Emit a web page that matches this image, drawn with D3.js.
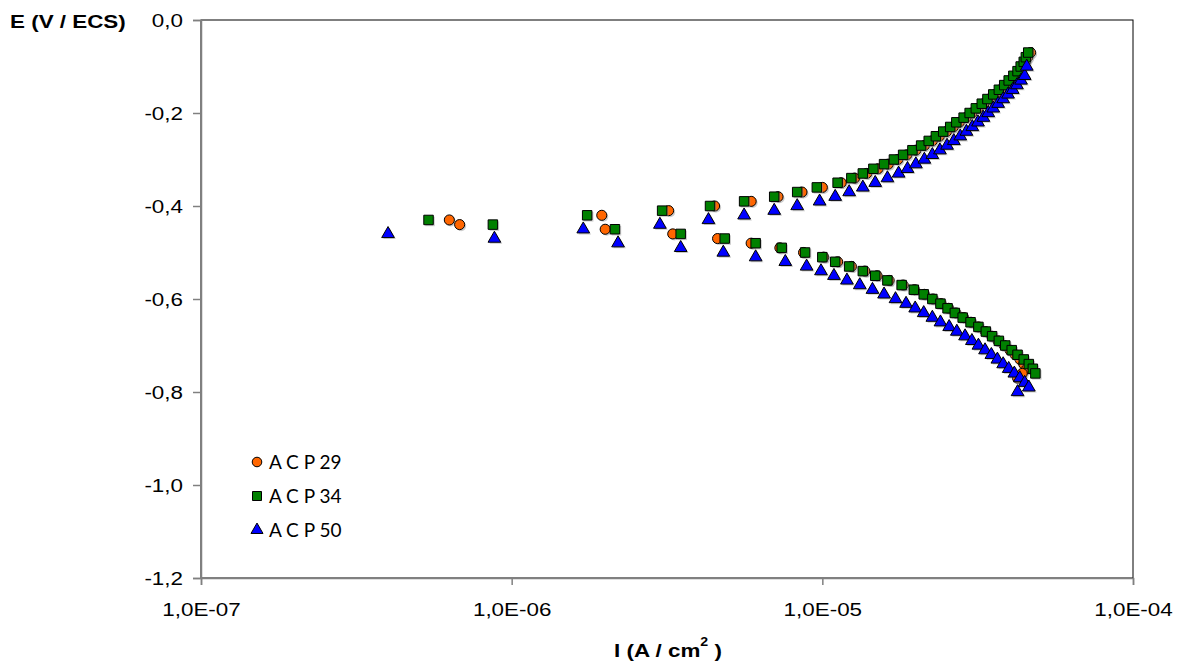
<!DOCTYPE html>
<html>
<head>
<meta charset="utf-8">
<script src="https://cdn.jsdelivr.net/npm/d3@7"></script>
<style>
  html, body { margin: 0; padding: 0; background: #fff; }
  svg { display: block; }
</style>
</head>
<body>
<svg id="chart" width="1183" height="662"></svg>
<script>
// ---- data ----
const seriesNames = ["A C P 29", "A C P 34", "A C P 50"];
const xTickValues = [1e-7, 1e-6, 1e-5, 1e-4];
const xTickLabels = ["1,0E-07", "1,0E-06", "1,0E-05", "1,0E-04"];
const yTickValues = [0, -0.2, -0.4, -0.6, -0.8, -1.0, -1.2];
const yTickLabels = ["0,0", "-0,2", "-0,4", "-0,6", "-0,8", "-1,0", "-1,2"];

// ACP29 (circles)
const acp29_I = [6.3e-7, 6.8e-7, 1.95e-6, 2.0e-6, 3.2e-6, 3.3e-6, 4.5e-6, 4.6e-6, 5.9e-6, 5.9e-6, 7.2e-6, 7.3e-6, 8.6e-6, 8.7e-6, 1.0e-5, 1.01e-5,
  1.15e-5, 1.27e-5, 1.39e-5, 1.51e-5, 1.63e-5, 1.75e-5, 1.87e-5, 2.00e-5, 2.13e-5, 2.26e-5, 2.38e-5, 2.51e-5, 2.64e-5, 2.76e-5, 2.90e-5,
  3.03e-5, 3.17e-5, 3.31e-5, 3.45e-5, 3.60e-5, 3.75e-5, 3.90e-5, 4.03e-5, 4.17e-5, 4.30e-5, 4.40e-5, 4.50e-5, 4.58e-5, 4.68e-5,
  1.12e-5, 1.24e-5, 1.37e-5, 1.50e-5, 1.64e-5, 1.82e-5, 1.98e-5, 2.13e-5, 2.27e-5, 2.41e-5, 2.55e-5, 2.69e-5, 2.85e-5, 3.01e-5,
  3.18e-5, 3.35e-5, 3.51e-5, 3.68e-5, 3.85e-5, 4.02e-5, 4.18e-5, 4.33e-5, 4.45e-5, 4.55e-5, 4.40e-5, 4.25e-5];
const acp29_E = [-0.43, -0.44, -0.42, -0.45, -0.41, -0.46, -0.40, -0.47, -0.39, -0.48, -0.38, -0.49, -0.37, -0.50, -0.36, -0.51,
  -0.35, -0.34, -0.33, -0.32, -0.31, -0.30, -0.29, -0.28, -0.27, -0.26, -0.25, -0.24, -0.23, -0.22, -0.21,
  -0.20, -0.19, -0.18, -0.17, -0.16, -0.15, -0.14, -0.13, -0.12, -0.11, -0.10, -0.09, -0.08, -0.07,
  -0.52, -0.53, -0.54, -0.55, -0.56, -0.57, -0.58, -0.59, -0.60, -0.61, -0.62, -0.63, -0.64, -0.65,
  -0.66, -0.67, -0.68, -0.69, -0.70, -0.71, -0.72, -0.73, -0.74, -0.75, -0.76, -0.77];

// ACP34 (squares)
const acp34_I = [5.4e-7, 8.7e-7, 1.75e-6, 2.15e-6, 3.05e-6, 3.5e-6, 4.35e-6, 4.85e-6, 5.6e-6, 6.1e-6, 7.0e-6, 7.4e-6, 8.3e-6, 8.8e-6, 9.6e-6, 1.0e-5,
  1.12e-5, 1.24e-5, 1.35e-5, 1.46e-5, 1.58e-5, 1.70e-5, 1.82e-5, 1.95e-5, 2.08e-5, 2.20e-5, 2.32e-5, 2.45e-5, 2.58e-5, 2.70e-5, 2.85e-5,
  2.98e-5, 3.12e-5, 3.26e-5, 3.40e-5, 3.55e-5, 3.70e-5, 3.85e-5, 3.98e-5, 4.12e-5, 4.25e-5, 4.35e-5, 4.45e-5, 4.52e-5, 4.60e-5,
  1.10e-5, 1.22e-5, 1.35e-5, 1.48e-5, 1.62e-5, 1.80e-5, 1.97e-5, 2.12e-5, 2.26e-5, 2.40e-5, 2.53e-5, 2.67e-5, 2.83e-5, 3.00e-5,
  3.18e-5, 3.36e-5, 3.52e-5, 3.70e-5, 3.88e-5, 4.07e-5, 4.25e-5, 4.45e-5, 4.62e-5, 4.76e-5, 4.85e-5];
const acp34_E = [-0.43, -0.44, -0.42, -0.45, -0.41, -0.46, -0.40, -0.47, -0.39, -0.48, -0.38, -0.49, -0.37, -0.50, -0.36, -0.51,
  -0.35, -0.34, -0.33, -0.32, -0.31, -0.30, -0.29, -0.28, -0.27, -0.26, -0.25, -0.24, -0.23, -0.22, -0.21,
  -0.20, -0.19, -0.18, -0.17, -0.16, -0.15, -0.14, -0.13, -0.12, -0.11, -0.10, -0.09, -0.08, -0.07,
  -0.52, -0.53, -0.54, -0.55, -0.56, -0.57, -0.58, -0.59, -0.60, -0.61, -0.62, -0.63, -0.64, -0.65,
  -0.66, -0.67, -0.68, -0.69, -0.70, -0.71, -0.72, -0.73, -0.74, -0.75, -0.76];

// ACP50 (triangles)
const acp50_I = [4.0e-7, 8.8e-7, 1.7e-6, 2.2e-6, 3.0e-6, 3.5e-6, 4.3e-6, 4.8e-6, 5.6e-6, 6.1e-6, 7.0e-6, 7.6e-6, 8.3e-6, 8.9e-6,
  9.8e-6, 1.10e-5, 1.22e-5, 1.35e-5, 1.48e-5, 1.62e-5, 1.76e-5, 1.88e-5, 2.00e-5, 2.13e-5, 2.26e-5, 2.39e-5, 2.52e-5, 2.65e-5, 2.78e-5,
  2.91e-5, 3.04e-5, 3.17e-5, 3.30e-5, 3.42e-5, 3.55e-5, 3.68e-5, 3.82e-5, 3.96e-5, 4.10e-5, 4.23e-5, 4.36e-5, 4.48e-5, 4.55e-5,
  9.9e-6, 1.09e-5, 1.20e-5, 1.32e-5, 1.45e-5, 1.58e-5, 1.72e-5, 1.86e-5, 1.99e-5, 2.12e-5, 2.26e-5, 2.40e-5, 2.56e-5, 2.71e-5,
  2.88e-5, 3.03e-5, 3.18e-5, 3.34e-5, 3.50e-5, 3.66e-5, 3.82e-5, 3.98e-5, 4.15e-5, 4.32e-5, 4.48e-5, 4.62e-5, 4.25e-5];
const acp50_E = [-0.46, -0.47, -0.45, -0.48, -0.44, -0.49, -0.43, -0.50, -0.42, -0.51, -0.41, -0.52, -0.40, -0.53,
  -0.39, -0.38, -0.37, -0.36, -0.35, -0.34, -0.33, -0.32, -0.31, -0.30, -0.29, -0.28, -0.27, -0.26, -0.25,
  -0.24, -0.23, -0.22, -0.21, -0.20, -0.19, -0.18, -0.17, -0.16, -0.15, -0.14, -0.13, -0.12, -0.10,
  -0.54, -0.55, -0.56, -0.57, -0.58, -0.59, -0.60, -0.61, -0.62, -0.63, -0.64, -0.65, -0.66, -0.67,
  -0.68, -0.69, -0.70, -0.71, -0.72, -0.73, -0.74, -0.75, -0.76, -0.77, -0.78, -0.79, -0.80];

const seriesColors = ["#FF6600", "#008000", "#0000FF"];
const seriesShapes = [d3.symbolCircle, d3.symbolSquare, d3.symbolTriangle];
const seriesSizes = [80, 90, 70];

// ---- layout ----
const svg = d3.select("#chart");
const plotL = 201, plotR = 1133, plotT = 20, plotB = 578;
const SX = 1.18; // horizontal stretch of the reference's text

const x = d3.scaleLog().domain([1e-7, 1e-4]).range([plotL, plotR]);
const y = d3.scaleLinear().domain([-1.2, 0]).range([plotB, plotT]);

const series = [
  acp29_I.map((v, i) => ({ I: v, E: acp29_E[i] })),
  acp34_I.map((v, i) => ({ I: v, E: acp34_E[i] })),
  acp50_I.map((v, i) => ({ I: v, E: acp50_E[i] }))
];

// plot area border
svg.append("rect")
  .attr("x", plotL).attr("y", plotT)
  .attr("width", plotR - plotL).attr("height", plotB - plotT)
  .attr("fill", "none").attr("stroke", "#000").attr("stroke-width", 1);

const FONT = "'Liberation Sans', Arial, sans-serif";

// axes
const xAxis = d3.axisBottom(x).tickValues(xTickValues)
  .tickFormat((d, i) => xTickLabels[i]).tickSizeOuter(0).tickSize(7).tickPadding(18);
const gx = svg.append("g").attr("transform", `translate(0,${plotB})`).call(xAxis);
gx.select(".domain").attr("stroke", "#808080").attr("stroke-width", 1.5);
gx.selectAll(".tick line").attr("stroke", "#808080").attr("stroke-width", 1.5);
gx.selectAll(".tick text").attr("font-family", FONT)
  .attr("font-size", 19).attr("fill", "#000")
  .attr("transform", `scale(${SX},1)`);

const yAxis = d3.axisLeft(y).tickValues(yTickValues)
  .tickFormat((d, i) => yTickLabels[i]).tickSizeOuter(0).tickSize(8).tickPadding(10);
const gy = svg.append("g").attr("transform", `translate(${plotL},0)`).call(yAxis);
gy.select(".domain").attr("stroke", "#808080").attr("stroke-width", 1.5);
gy.selectAll(".tick line").attr("stroke", "#808080").attr("stroke-width", 1.5);
gy.selectAll(".tick text").attr("font-family", FONT)
  .attr("font-size", 19).attr("fill", "#000")
  .attr("x", -18 / SX)
  .attr("transform", `scale(${SX},1)`);

// axis titles
svg.append("text").attr("x", 10 / SX).attr("y", 28)
  .attr("transform", `scale(${SX},1)`)
  .attr("font-family", FONT).attr("font-weight", "bold")
  .attr("font-size", 19).text("E (V / ECS)");

const xt = svg.append("text").attr("x", 668 / SX).attr("y", 657).attr("text-anchor", "middle")
  .attr("transform", `scale(${SX},1)`)
  .attr("font-family", FONT).attr("font-weight", "bold")
  .attr("font-size", 19);
xt.append("tspan").text("I (A / cm");
xt.append("tspan").attr("dy", -11).attr("font-size", 12).text("2");
xt.append("tspan").attr("dy", 11).text(" )");

// markers
const sym = d3.symbol();
series.forEach((pts, si) => {
  const g = svg.append("g");
  const path = sym.type(seriesShapes[si]).size(seriesSizes[si])();
  g.selectAll("path.sh").data(pts).join("path")
    .attr("class", "sh")
    .attr("d", path)
    .attr("transform", d => `translate(${x(d.I) + 1.5},${y(d.E) + 1.5})`)
    .attr("fill", "#999").attr("opacity", 0.5);
  g.selectAll("path.mk").data(pts).join("path")
    .attr("class", "mk")
    .attr("d", path)
    .attr("transform", d => `translate(${x(d.I)},${y(d.E)})`)
    .attr("fill", seriesColors[si]).attr("stroke", "#000").attr("stroke-width", 1);
});

// legend
const legY = [462, 496, 530];
seriesNames.forEach((name, si) => {
  const path = d3.symbol().type(seriesShapes[si]).size(seriesSizes[si] * 0.9)();
  svg.append("path").attr("d", path)
    .attr("transform", `translate(257,${legY[si]})`)
    .attr("fill", seriesColors[si]).attr("stroke", "#000").attr("stroke-width", 1);
  svg.append("text").attr("x", 269).attr("y", legY[si] + 7)
    .attr("font-family", "Lato, 'Open Sans', sans-serif").attr("font-size", 19)
    .attr("fill", "#000").text(name);
});
</script>
</body>
</html>
